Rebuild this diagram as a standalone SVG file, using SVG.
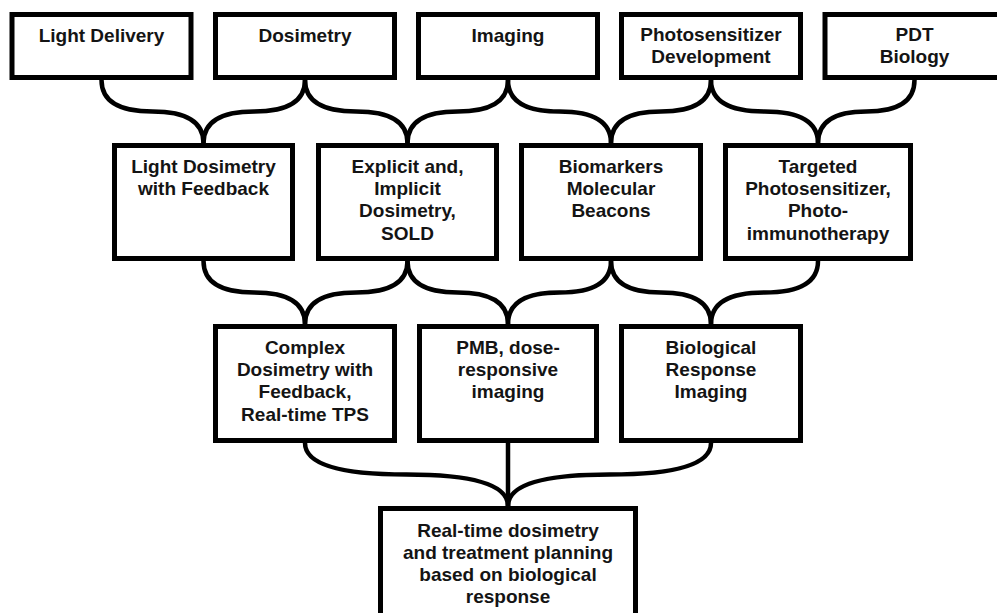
<svg xmlns="http://www.w3.org/2000/svg" width="997" height="613" viewBox="0 0 997 613">
<style>
.box{fill:#fff;stroke:#000;stroke-width:5}
.lbl{font-family:"Liberation Sans",Arial,sans-serif;font-weight:bold;font-size:19px;fill:#141414;text-anchor:middle}
.con{fill:none;stroke:#000;stroke-width:4.5}
</style>
<rect width="997" height="613" fill="#fff"/>
<g id="connectors">
<path class="con" d="M101.5 80 Q101.5 111.5 152.5 111.5 Q203.5 111.5 203.5 143"/>
<path class="con" d="M305 80 Q305 111.5 254.25 111.5 Q203.5 111.5 203.5 143"/>
<path class="con" d="M305 80 Q305 111.5 356.25 111.5 Q407.5 111.5 407.5 143"/>
<path class="con" d="M508 80 Q508 111.5 457.75 111.5 Q407.5 111.5 407.5 143"/>
<path class="con" d="M508 80 Q508 111.5 559.5 111.5 Q611 111.5 611 143"/>
<path class="con" d="M711 80 Q711 111.5 661 111.5 Q611 111.5 611 143"/>
<path class="con" d="M711 80 Q711 111.5 764.5 111.5 Q818 111.5 818 143"/>
<path class="con" d="M914.5 80 Q914.5 111.5 866.25 111.5 Q818 111.5 818 143"/>
<path class="con" d="M203.5 261 Q203.5 292.5 254.25 292.5 Q305 292.5 305 324"/>
<path class="con" d="M407.5 261 Q407.5 292.5 356.25 292.5 Q305 292.5 305 324"/>
<path class="con" d="M407.5 261 Q407.5 292.5 457.75 292.5 Q508 292.5 508 324"/>
<path class="con" d="M611 261 Q611 292.5 559.5 292.5 Q508 292.5 508 324"/>
<path class="con" d="M611 261 Q611 292.5 661 292.5 Q711 292.5 711 324"/>
<path class="con" d="M818 261 Q818 292.5 764.5 292.5 Q711 292.5 711 324"/>
<path class="con" d="M305 443 Q305 474.5 406.5 474.5 Q508 474.5 508 506"/>
<path class="con" d="M508 443 L508 506"/>
<path class="con" d="M711 443 Q711 474.5 609.5 474.5 Q508 474.5 508 506"/>
</g>
<g id="n-light-delivery"><rect class="box" x="12" y="14.5" width="179" height="63"/><text class="lbl" x="101.5" y="41.5">Light Delivery</text></g>
<g id="n-dosimetry"><rect class="box" x="215.5" y="14.5" width="179" height="63"/><text class="lbl" x="305" y="41.5">Dosimetry</text></g>
<g id="n-imaging"><rect class="box" x="418.5" y="14.5" width="179" height="63"/><text class="lbl" x="508" y="41.5">Imaging</text></g>
<g id="n-ps-dev"><rect class="box" x="621.5" y="14.5" width="179" height="63"/><text class="lbl" x="711" y="41"><tspan x="711">Photosensitizer</tspan><tspan x="711" dy="22.4">Development</tspan></text></g>
<g id="n-pdt-bio"><rect class="box" x="825" y="14.5" width="179" height="63"/><text class="lbl" x="914.5" y="41"><tspan x="914.5">PDT</tspan><tspan x="914.5" dy="22.4">Biology</tspan></text></g>
<g id="n-light-dos"><rect class="box" x="114.5" y="145.5" width="178" height="113"/><text class="lbl" x="203.5" y="172.5"><tspan x="203.5">Light Dosimetry</tspan><tspan x="203.5" dy="22.4">with Feedback</tspan></text></g>
<g id="n-explicit"><rect class="box" x="318.5" y="145.5" width="178" height="113"/><text class="lbl" x="407.5" y="172.5"><tspan x="407.5">Explicit and,</tspan><tspan x="407.5" dy="22.4">Implicit</tspan><tspan x="407.5" dy="22.4">Dosimetry,</tspan><tspan x="407.5" dy="22.4">SOLD</tspan></text></g>
<g id="n-biomarkers"><rect class="box" x="521.5" y="145.5" width="179" height="113"/><text class="lbl" x="611" y="172.5"><tspan x="611">Biomarkers</tspan><tspan x="611" dy="22.4">Molecular</tspan><tspan x="611" dy="22.4">Beacons</tspan></text></g>
<g id="n-targeted"><rect class="box" x="725.5" y="145.5" width="185" height="113"/><text class="lbl" x="818" y="172.5"><tspan x="818">Targeted</tspan><tspan x="818" dy="22.4">Photosensitizer,</tspan><tspan x="818" dy="22.4">Photo-</tspan><tspan x="818" dy="22.4">immunotherapy</tspan></text></g>
<g id="n-complex"><rect class="box" x="215.5" y="326.5" width="179" height="114"/><text class="lbl" x="305" y="353.5"><tspan x="305">Complex</tspan><tspan x="305" dy="22.4">Dosimetry with</tspan><tspan x="305" dy="22.4">Feedback,</tspan><tspan x="305" dy="22.4">Real-time TPS</tspan></text></g>
<g id="n-pmb"><rect class="box" x="419.5" y="326.5" width="177" height="114"/><text class="lbl" x="508" y="353.5"><tspan x="508">PMB, dose-</tspan><tspan x="508" dy="22.4">responsive</tspan><tspan x="508" dy="22.4">imaging</tspan></text></g>
<g id="n-bio-resp"><rect class="box" x="621.5" y="326.5" width="179" height="114"/><text class="lbl" x="711" y="353.5"><tspan x="711">Biological</tspan><tspan x="711" dy="22.4">Response</tspan><tspan x="711" dy="22.4">Imaging</tspan></text></g>
<g id="n-realtime"><rect class="box" x="380.5" y="508.5" width="255" height="120"/><text class="lbl" x="508" y="536.5"><tspan x="508">Real-time dosimetry</tspan><tspan x="508" dy="22">and treatment planning</tspan><tspan x="508" dy="22">based on biological</tspan><tspan x="508" dy="22">response</tspan></text></g>
</svg>
